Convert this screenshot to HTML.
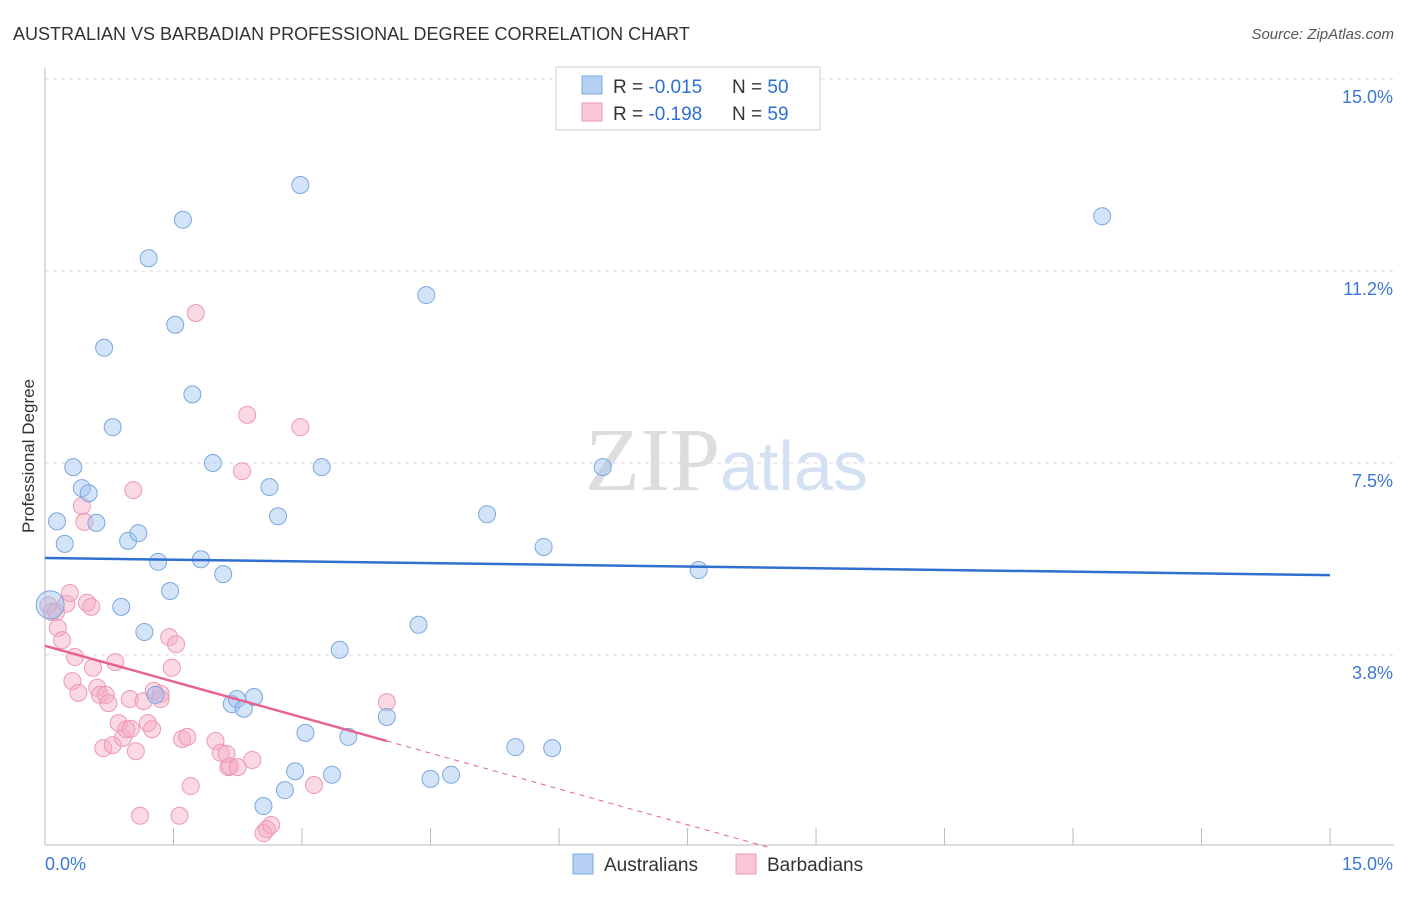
<!DOCTYPE html>
<html><head><meta charset="utf-8"><style>
body{margin:0;background:#fff;font-family:"Liberation Sans",sans-serif;}
</style></head><body>
<svg width="1406" height="892" xmlns="http://www.w3.org/2000/svg" font-family="Liberation Sans, sans-serif">
<text x="13" y="40" font-size="18" fill="#333">AUSTRALIAN VS BARBADIAN PROFESSIONAL DEGREE CORRELATION CHART</text>
<text x="1394" y="39" font-size="15" fill="#555" font-style="italic" text-anchor="end">Source: ZipAtlas.com</text>
<text x="34" y="456" font-size="17" fill="#333" text-anchor="middle" transform="rotate(-90 34 456)">Professional Degree</text>
<g id="grid"></g>
<text x="720" y="490" font-size="90" fill="#ddd" text-anchor="end" font-family="Liberation Serif, serif">ZIP</text>
<text x="720" y="490" font-size="70" fill="#d3e1f3">atlas</text>
<g id="marks"></g>
<g>
<rect x="556" y="67" width="264" height="63" fill="#fff" stroke="#ccc"/>
<rect x="582" y="76" width="20" height="18" fill="#b5d0f2" stroke="#7aa7e0"/>
<rect x="582" y="103" width="20" height="18" fill="#f8c6d6" stroke="#ee98b5"/>
<text x="613" y="93" font-size="19" fill="#333">R = <tspan fill="#2f6fd0">-0.015</tspan><tspan x="732">N = </tspan><tspan fill="#2f6fd0">50</tspan></text>
<text x="613" y="120" font-size="19" fill="#333">R = <tspan fill="#2f6fd0"> -0.198</tspan><tspan x="732">N = </tspan><tspan fill="#2f6fd0"> 59</tspan></text>
</g>
<g>
<rect x="573" y="854" width="20" height="20" fill="#b5d0f2" stroke="#7aa7e0"/>
<text x="604" y="871" font-size="19" fill="#333">Australians</text>
<rect x="736" y="854" width="20" height="20" fill="#f8c6d6" stroke="#ee98b5"/>
<text x="767" y="871" font-size="19" fill="#333">Barbadians</text>
</g>
</svg>
<script>
const yTicks=[3.75,7.5,11.25,15];
const yTickLabels=["3.8%","7.5%","11.2%","15.0%"];
const xTicks=[0,1.5,3,4.5,6,7.5,9,10.5,12,13.5,15];
const ausX=[0.14,0.23,0.33,0.43,0.51,0.60,0.69,0.79,0.89,0.97,1.09,1.16,1.21,1.29,1.32,1.46,1.52,1.61,1.72,1.82,1.96,2.08,2.18,2.24,2.32,2.44,2.55,2.62,2.72,2.80,2.92,2.98,3.04,3.23,3.35,3.44,3.54,3.99,4.36,4.45,4.50,4.74,5.16,5.49,5.82,5.92,6.51,7.63,12.34,0.06];
const ausY=[6.36,5.92,7.42,7.01,6.91,6.33,9.75,8.20,4.69,5.98,6.13,4.20,11.50,2.97,5.57,5.00,10.20,12.25,8.84,5.62,7.50,5.33,2.79,2.89,2.70,2.93,0.80,7.03,6.46,1.11,1.48,12.93,2.23,7.42,1.41,3.85,2.15,2.54,4.34,10.78,1.33,1.41,6.50,1.95,5.86,1.93,7.42,5.41,12.32,4.73];
const barX=[0.04,0.08,0.13,0.15,0.20,0.25,0.29,0.32,0.35,0.39,0.43,0.46,0.49,0.54,0.56,0.61,0.64,0.68,0.71,0.74,0.79,0.82,0.86,0.91,0.95,0.99,1.03,1.00,1.06,1.11,1.15,1.20,1.25,1.27,1.35,1.45,1.48,1.53,1.57,1.60,1.66,1.70,1.76,1.99,2.05,2.14,2.16,2.12,2.30,2.42,2.25,2.36,2.55,2.59,2.64,2.98,3.14,3.99,1.35];
const barY=[4.72,4.59,4.59,4.28,4.04,4.75,4.96,3.24,3.71,3.01,6.66,6.35,4.77,4.69,3.50,3.11,2.97,1.93,2.97,2.81,1.99,3.61,2.42,2.13,2.30,2.89,6.97,2.31,1.87,0.61,2.85,2.42,2.30,3.05,2.99,4.10,3.50,3.96,0.61,2.11,2.15,1.19,10.43,2.07,1.84,1.56,1.58,1.82,7.34,1.70,1.56,8.44,0.27,0.35,0.43,8.20,1.21,2.83,2.89];
const blueTrend=[5.645,5.31];
const pinkTrend=[3.93,-0.466];
const X=v=>45+v*85.67, Y=v=>847-v*51.2;
const NS="http://www.w3.org/2000/svg";
function mk(t,a,p){const e=document.createElementNS(NS,t);for(const k in a)e.setAttribute(k,a[k]);p.appendChild(e);return e;}
const g=document.getElementById('grid'), m=document.getElementById('marks');
yTicks.forEach((t,i)=>{
 const l=mk('line',{x1:45,x2:1394,y1:Y(t),y2:Y(t),stroke:'#ddd','stroke-dasharray':'4,4'},g);
 
 
 const tx=mk('text',{x:1393,y:Y(t)+24,'font-size':18,fill:'#3a78d4','text-anchor':'end'},g);
 tx.textContent=yTickLabels[i];
 
 
});
mk('line',{x1:45,x2:45,y1:68,y2:845,stroke:'#bbb'},g);
mk('line',{x1:45,x2:1394,y1:845,y2:845,stroke:'#bbb'},g);
xTicks.forEach(t=>{const l=mk('line',{x1:X(t),x2:X(t),y1:828,y2:845,stroke:'#bbb'},g);
 
 });
let t1=mk('text',{x:45,y:870,'font-size':18,fill:'#3a78d4'},g);t1.textContent='0.0%';


let t2=mk('text',{x:1393,y:870,'font-size':18,fill:'#3a78d4','text-anchor':'end'},g);t2.textContent='15.0%';


barX.forEach((x,i)=>{const c=mk('circle',{cx:X(x),cy:Y(barY[i]),r:8.5,fill:'rgba(245,170,195,0.45)',stroke:'#ee98b5','stroke-width':1},m);
 
 });
ausX.forEach((x,i)=>{const c=mk('circle',{cx:X(x),cy:Y(ausY[i]),r:i==ausX.length-1?14:8.5,fill:'rgba(160,195,240,0.45)',stroke:'#7aa7e0','stroke-width':1},m);
 
 });
let bl=mk('line',{x1:X(0),y1:Y(blueTrend[0]),x2:X(15),y2:Y(blueTrend[1]),stroke:'#2f6fd0','stroke-width':2.5},m);


const px=3.99, pz=-pinkTrend[0]/pinkTrend[1];
let pl=mk('line',{x1:X(0),y1:Y(pinkTrend[0]),x2:X(px),y2:Y(pinkTrend[0]+pinkTrend[1]*px),stroke:'#e8628f','stroke-width':2.5},m);


let pd=mk('line',{x1:X(px),y1:Y(pinkTrend[0]+pinkTrend[1]*px),x2:X(pz),y2:Y(0),stroke:'#e8628f','stroke-width':1,'stroke-dasharray':'5,5'},m);


</script>
</body></html>
